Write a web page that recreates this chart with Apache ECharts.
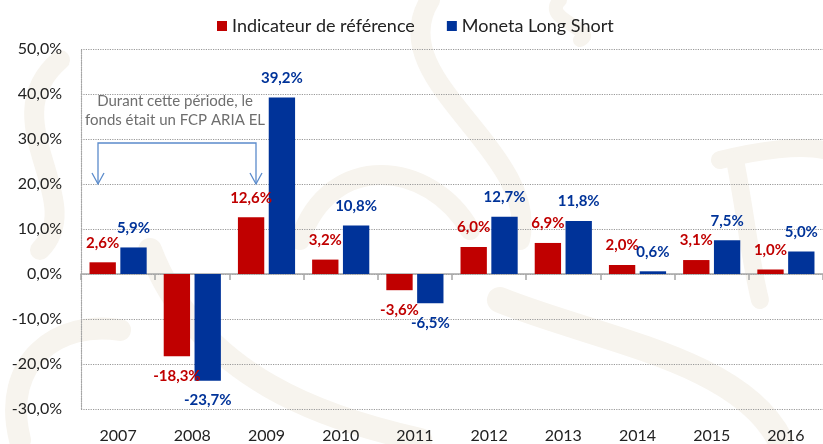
<!DOCTYPE html>
<html>
<head>
<meta charset="utf-8">
<script src="https://cdn.jsdelivr.net/npm/echarts@6/dist/echarts.min.js"></script>
<style>
  html, body { margin: 0; padding: 0; background: #fff; }
  #chart { width: 823px; height: 444px; }
</style>
</head>
<body>
<div id="chart"></div>
<script>
const years = ['2007', '2008', '2009', '2010', '2011', '2012', '2013', '2014', '2015', '2016'];
const refValues = [2.6, -18.3, 12.6, 3.2, -3.6, 6.0, 6.9, 2.0, 3.1, 1.0];
const monetaValues = [5.9, -23.7, 39.2, 10.8, -6.5, 12.7, 11.8, 0.6, 7.5, 5.0];
const seriesNames = ['Indicateur de référence', 'Moneta Long Short'];
const noteLines = ['Durant cette période, le', 'fonds était un FCP ARIA EL'];

const RED = '#C00000';
const BLUE = '#003399';
const FONT = 'Lato, Carlito, Calibri, sans-serif';

const pct = v => v.toFixed(1).replace('.', ',') + '%';

const chart = echarts.init(document.getElementById('chart'));

// light beige decorative swirls in the background
const beige = '#F7F4EE';
const swirl = (pts, w) => ({
  type: 'bezierCurve', silent: true, z: -10,
  shape: pts,
  style: { stroke: beige, lineWidth: w, fill: null, lineCap: 'round' }
});

const labelFor = color => ({
  show: true,
  fontFamily: FONT,
  fontWeight: 'bold',
  fontSize: 15,
  color: color,
  distance: 12,
  formatter: p => pct(p.value)
});

const option = {
  animation: false,
  backgroundColor: '#fff',
  textStyle: { fontFamily: FONT },
  legend: {
    left: 212,
    top: 12,
    icon: 'rect',
    itemWidth: 10,
    itemHeight: 10,
    itemGap: 32,
    textStyle: { fontSize: 18, color: '#222', fontFamily: FONT },
    data: seriesNames
  },
  grid: { left: 81, top: 49, bottom: 34, width: 745 },
  xAxis: [
    {
      type: 'category',
      data: years,
      axisLine: { onZero: true, lineStyle: { color: '#A6A6A6', width: 1.5 } },
      axisTick: { show: true, length: 6, lineStyle: { color: '#A6A6A6', width: 1.5 } },
      axisLabel: { show: false }
    },
    {
      type: 'category',
      data: years,
      position: 'bottom',
      axisLine: { show: false },
      axisTick: { show: false },
      axisLabel: { fontSize: 16, color: '#222', margin: 19, fontFamily: FONT }
    }
  ],
  yAxis: {
    type: 'value',
    min: -30,
    max: 50,
    interval: 10,
    axisLine: { show: true, lineStyle: { color: '#A6A6A6', type: 'dotted', width: 1.2 } },
    axisTick: { show: false },
    splitLine: { lineStyle: { color: '#999', type: 'dotted', width: 1.2 } },
    axisLabel: {
      fontSize: 16, color: '#222', margin: 19, fontFamily: FONT,
      formatter: v => pct(v)
    }
  },
  series: [
    {
      name: seriesNames[0],
      type: 'bar',
      xAxisIndex: 0,
      data: refValues.map(v => ({
        value: v,
        label: Object.assign(labelFor(RED), { position: v < 0 ? 'bottom' : 'top' })
      })),
      itemStyle: { color: RED },
      barWidth: '35.5%',
      barGap: '17%'
    },
    {
      name: seriesNames[1],
      type: 'bar',
      xAxisIndex: 0,
      data: monetaValues.map(v => ({
        value: v,
        label: Object.assign(labelFor(BLUE), { position: v < 0 ? 'bottom' : 'top' })
      })),
      itemStyle: { color: BLUE },
      barWidth: '35.5%',
      barGap: '17%'
    }
  ],
  graphic: [
    swirl({ x1: 20, y1: 440, x2: 120, y2: 330, cpx1: 0, cpy1: 360, cpx2: 60, cpy2: 320 }, 22),
    swirl({ x1: 60, y1: 60, x2: 40, y2: 250, cpx1: -10, cpy1: 120, cpx2: 90, cpy2: 200 }, 20),
    swirl({ x1: 150, y1: 250, x2: 420, y2: 440, cpx1: 200, cpy1: 380, cpx2: 330, cpy2: 420 }, 24),
    swirl({ x1: 300, y1: 240, x2: 470, y2: 230, cpx1: 330, cpy1: 150, cpx2: 430, cpy2: 160 }, 20),
    swirl({ x1: 430, y1: 0, x2: 520, y2: 240, cpx1: 380, cpy1: 80, cpx2: 540, cpy2: 150 }, 20),
    swirl({ x1: 500, y1: 300, x2: 780, y2: 440, cpx1: 600, cpy1: 340, cpx2: 740, cpy2: 360 }, 26),
    swirl({ x1: 720, y1: 160, x2: 823, y2: 150, cpx1: 760, cpy1: 150, cpx2: 800, cpy2: 145 }, 18),
    swirl({ x1: 735, y1: 160, x2: 760, y2: 300, cpx1: 745, cpy1: 210, cpx2: 750, cpy2: 260 }, 18),
    swirl({ x1: 560, y1: 0, x2: 580, y2: 40, cpx1: 540, cpy1: 20, cpx2: 600, cpy2: 30 }, 14),
    {
      type: 'text',
      left: 85, top: 92, z: 50,
      style: {
        text: noteLines.join('\n'),
        font: '15px ' + FONT,
        fill: '#6E6E6E',
        textAlign: 'center',
        lineHeight: 19,
        x: 87, y: 0
      }
    },
    {
      type: 'polyline', z: 50, silent: true,
      shape: { points: [[98, 184], [98, 143], [256, 143], [256, 184]] },
      style: { stroke: '#5B8BCB', lineWidth: 1.3, fill: null }
    },
    {
      type: 'polyline', z: 50, silent: true,
      shape: { points: [[92, 173], [98, 184], [104, 173]] },
      style: { stroke: '#5B8BCB', lineWidth: 1.3, fill: null }
    },
    {
      type: 'polyline', z: 50, silent: true,
      shape: { points: [[250, 173], [256, 184], [262, 173]] },
      style: { stroke: '#5B8BCB', lineWidth: 1.3, fill: null }
    }
  ]
};

chart.setOption(option);
window.addEventListener('resize', () => chart.resize());
</script>
</body>
</html>
